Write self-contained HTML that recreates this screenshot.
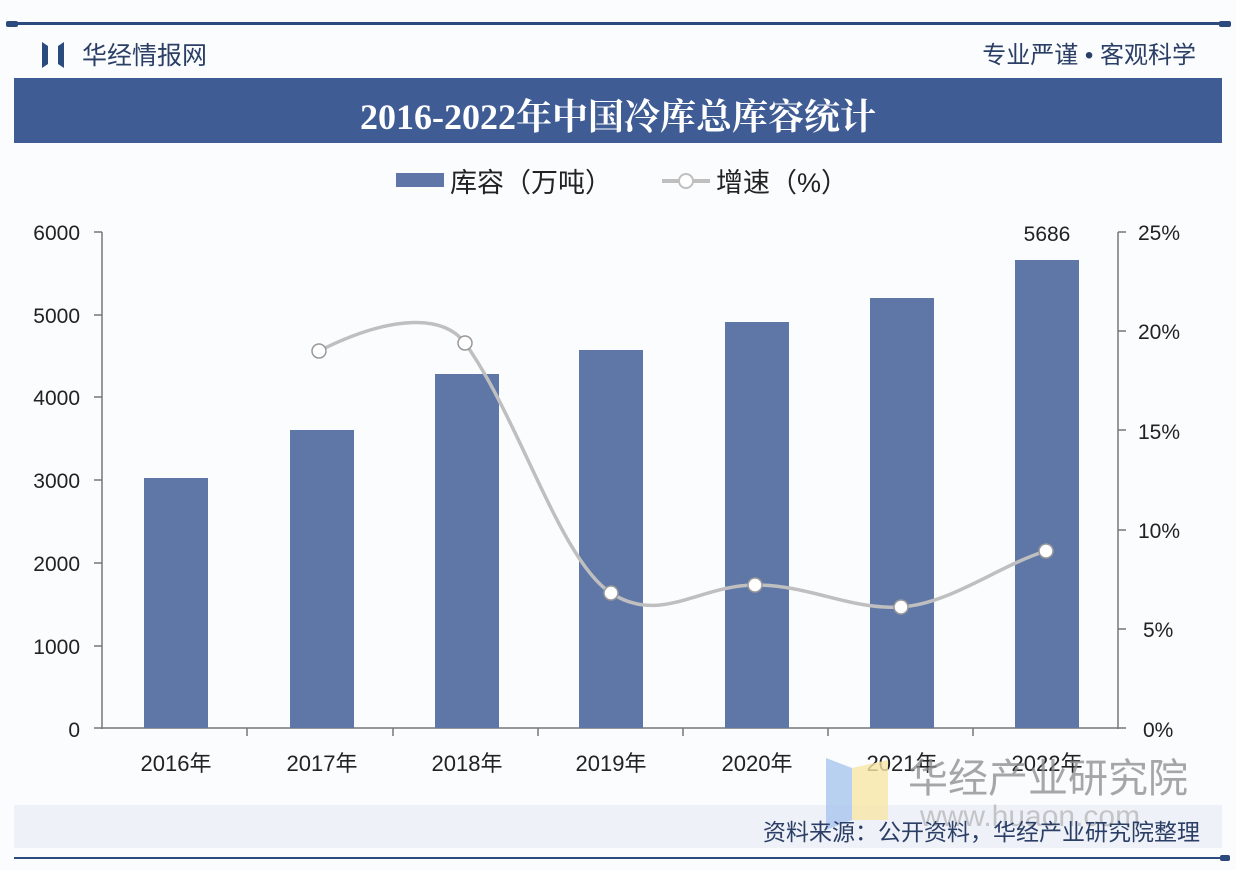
<!DOCTYPE html>
<html><head><meta charset="utf-8"><style>
body{margin:0;width:1236px;height:870px;background:#fbfcfe;overflow:hidden;font-family:"Liberation Sans","Noto Sans CJK SC",sans-serif}
</style></head><body>
<svg width="1236" height="870" xmlns="http://www.w3.org/2000/svg" style="position:absolute;left:0;top:0">
<rect x="14" y="22" width="1208" height="3" fill="#2b4a7e"/>
<rect x="6" y="21" width="12" height="6" rx="2" fill="#2b4a7e"/>
<rect x="1219" y="21" width="12" height="6" rx="2" fill="#2b4a7e"/>
<polygon points="42,42 48,46 48,64 42,68" fill="#2b4a7e"/>
<polygon points="58,46 64,42 64,68 58,64" fill="#2b4a7e"/>
<text x="82" y="64" font-size="25" fill="#2b3e66" font-family="Liberation Sans,Noto Sans CJK SC,sans-serif">华经情报网</text>
<text x="1196" y="63" font-size="24" fill="#2b3e66" text-anchor="end" font-family="Liberation Sans,Noto Sans CJK SC,sans-serif">专业严谨 • 客观科学</text>
<rect x="14" y="78" width="1208" height="65" fill="#3f5c95"/>
<text x="618" y="129" font-size="36" font-weight="bold" fill="#fff" text-anchor="middle" font-family="Liberation Serif,Noto Serif CJK SC,serif">2016-2022年中国冷库总库容统计</text>
<rect x="396" y="173" width="48" height="14" fill="#5e77a8"/>
<text x="450" y="192" font-size="27" fill="#222" font-family="Liberation Sans,Noto Sans CJK SC,sans-serif">库容（万吨）</text>
<line x1="662" y1="181" x2="710" y2="181" stroke="#bfbfbf" stroke-width="4"/>
<circle cx="686" cy="181" r="7" fill="#fff" stroke="#bfbfbf" stroke-width="2"/>
<text x="716" y="192" font-size="27" fill="#222" font-family="Liberation Sans,Noto Sans CJK SC,sans-serif">增速（%）</text>
<g font-size="21" fill="#222" text-anchor="end">
<text x="80" y="240">6000</text><text x="80" y="323">5000</text><text x="80" y="405">4000</text><text x="80" y="488">3000</text><text x="80" y="571">2000</text><text x="80" y="654">1000</text><text x="80" y="737">0</text>
</g>
<g font-size="21" fill="#222">
<text x="1138" y="240">25%</text><text x="1138" y="339">20%</text><text x="1138" y="439">15%</text><text x="1138" y="538">10%</text><text x="1143" y="637">5%</text><text x="1143" y="737">0%</text>
</g>
<g stroke="#777" stroke-width="1.5">
<line x1="102" y1="232" x2="102" y2="729"/><line x1="94" y1="232" x2="102" y2="232"/><line x1="94" y1="315" x2="102" y2="315"/><line x1="94" y1="397" x2="102" y2="397"/><line x1="94" y1="480" x2="102" y2="480"/><line x1="94" y1="563" x2="102" y2="563"/><line x1="94" y1="646" x2="102" y2="646"/><line x1="94" y1="728" x2="102" y2="728"/>
<line x1="1118" y1="232" x2="1118" y2="729"/><line x1="1118" y1="232" x2="1126" y2="232"/><line x1="1118" y1="331" x2="1126" y2="331"/><line x1="1118" y1="430" x2="1126" y2="430"/><line x1="1118" y1="530" x2="1126" y2="530"/><line x1="1118" y1="629" x2="1126" y2="629"/><line x1="1118" y1="728" x2="1126" y2="728"/>
<line x1="102" y1="728" x2="1118" y2="728"/>
<line x1="247" y1="728" x2="247" y2="736"/><line x1="393" y1="728" x2="393" y2="736"/><line x1="538" y1="728" x2="538" y2="736"/><line x1="683" y1="728" x2="683" y2="736"/><line x1="828" y1="728" x2="828" y2="736"/><line x1="973" y1="728" x2="973" y2="736"/>
</g>
<g fill="#5f77a7">
<rect x="144" y="478" width="64" height="250"/><rect x="290" y="430" width="64" height="298"/><rect x="435" y="374" width="64" height="354"/><rect x="579" y="350" width="64" height="378"/><rect x="725" y="322" width="64" height="406"/><rect x="870" y="298" width="64" height="430"/><rect x="1015" y="260" width="64" height="468"/>
</g>
<text x="1047" y="241" font-size="21" fill="#222" text-anchor="middle">5686</text>
<path d="M319,351 C380,320 440,310 465,343 C520,420 560,560 611,593 C660,625 700,585 755,585 C810,585 850,610 901,607 C950,604 1000,565 1046,551" fill="none" stroke="#bfbfbf" stroke-width="3.5"/>
<g fill="#fff" stroke="#999" stroke-width="1.5">
<circle cx="319" cy="351" r="7"/><circle cx="465" cy="343" r="7"/><circle cx="611" cy="593" r="7"/><circle cx="755" cy="585" r="7"/><circle cx="901" cy="607" r="7"/><circle cx="1046" cy="551" r="7"/>
</g>
<g font-size="22" fill="#222" text-anchor="middle" font-family="Liberation Sans,Noto Sans CJK SC,sans-serif">
<text x="176" y="771">2016年</text><text x="322" y="771">2017年</text><text x="467" y="771">2018年</text><text x="611" y="771">2019年</text><text x="757" y="771">2020年</text><text x="902" y="771">2021年</text><text x="1047" y="771">2022年</text>
</g>
<rect x="14" y="805" width="1208" height="43" fill="#eef1f7"/>
<polygon points="826,758 852,768 852,820 826,830" fill="#a9c6ee" opacity="0.8"/>
<polygon points="852,768 888,760 888,820 852,820" fill="#f7e6a6" opacity="0.8"/>
<text x="908" y="792" font-size="40" fill="#8a8a8a" opacity="0.75" font-family="Liberation Sans,Noto Sans CJK SC,sans-serif">华经产业研究院</text>
<text x="920" y="826" font-size="30" fill="#999" opacity="0.5">www.huaon.com</text>
<text x="1200" y="840" font-size="23" fill="#2b3e66" text-anchor="end" font-family="Liberation Sans,Noto Sans CJK SC,sans-serif">资料来源：公开资料，华经产业研究院整理</text>
<rect x="14" y="857" width="1208" height="2" fill="#2b4a7e"/>
<rect x="1220" y="855" width="10" height="6" rx="2" fill="#2b4a7e"/>
</svg>
</body></html>
